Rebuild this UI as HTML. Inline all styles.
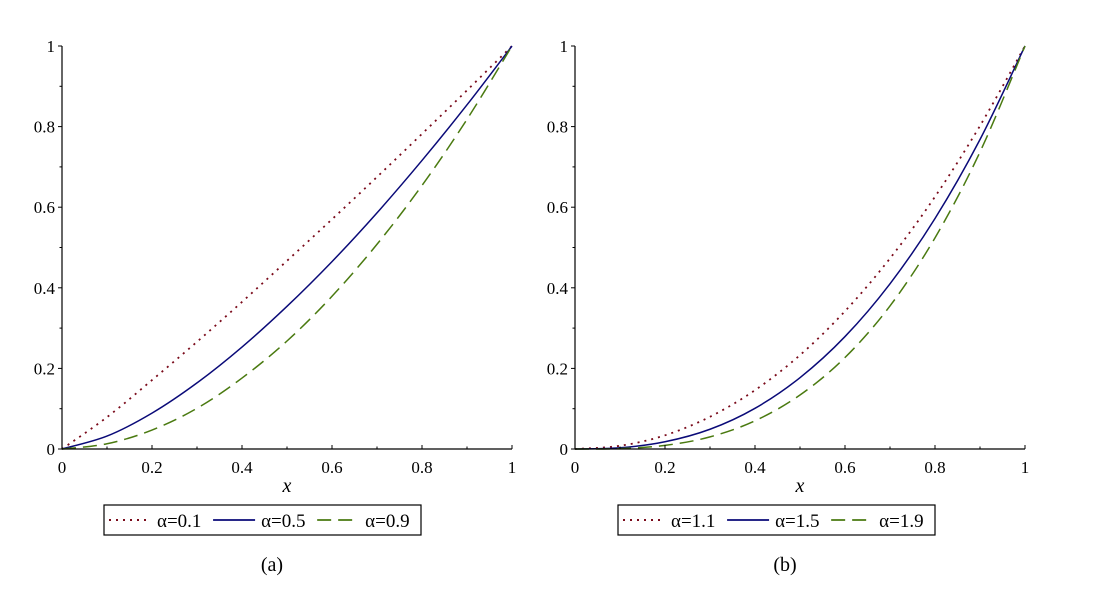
<!DOCTYPE html>
<html><head><meta charset="utf-8"><style>
html,body{margin:0;padding:0;background:#fff}
svg text{font-family:"Liberation Serif","DejaVu Serif",serif;fill:#000}
</style></head><body>
<svg id="chart" width="1112" height="602" viewBox="0 0 1112 602" xmlns="http://www.w3.org/2000/svg" font-family="Liberation Serif, DejaVu Serif, serif"></svg>
<script>
const xCats=[0,0.1,0.2,0.3,0.4,0.5,0.6,0.7,0.8,0.9,1];
const a01=[0,.079,.171,.266,.365,.467,.570,.675,.782,.890,1];
const a05=[0,.032,.089,.164,.253,.354,.465,.586,.716,.854,1];
const a09=[0,.013,.047,.101,.176,.268,.379,.508,.654,.818,1];
const a11=[0,.008,.034,.080,.146,.233,.342,.473,.626,.802,1];
const a15=[0,.003,.018,.049,.101,.177,.279,.410,.572,.768,1];
const a19=[0,.001,.009,.030,.070,.134,.227,.355,.524,.737,1];
const xTickLabels=["0","0.2","0.4","0.6","0.8","1"];
const yTickLabels=["0","0.2","0.4","0.6","0.8","1"];
const legA=["α=0.1","α=0.5","α=0.9"];
const legB=["α=1.1","α=1.5","α=1.9"];

const NS="http://www.w3.org/2000/svg";
const svg=document.getElementById('chart');
function mk(t,at,p){const e=document.createElementNS(NS,t);for(const k in at)e.setAttribute(k,at[k]);if(t==='text')e.setAttribute('font-family','Liberation Serif, DejaVu Serif, serif');(p||svg).appendChild(e);return e;}
const styles=[
 {stroke:"#7a0a1a",dash:"2,5",w:1.8},
 {stroke:"#0a0a78",dash:"",w:1.5},
 {stroke:"#4a7a10",dash:"14,7",w:1.5}];
function panel(x0,id,series,leg,lx,ly,lw,cap){
 const g=mk('g',{});
 
 
 const X=v=>x0+v*450, Y=v=>449-v*403;
 series.forEach((s,i)=>{
  const pts=xCats.map((x,j)=>[X(x),Y(s[j])]);
  let d="M"+pts[0][0]+","+pts[0][1];
  for(let j=0;j<pts.length-1;j++){
   const p0=pts[Math.max(0,j-1)],p1=pts[j],p2=pts[j+1],p3=pts[Math.min(pts.length-1,j+2)];
   d+=" C"+(p1[0]+(p2[0]-p0[0])/6)+","+(p1[1]+(p2[1]-p0[1])/6)+" "+(p2[0]-(p3[0]-p1[0])/6)+","+(p2[1]-(p3[1]-p1[1])/6)+" "+p2[0]+","+p2[1];
  }
  const st=styles[i];
  const pa=mk('path',{d:d,fill:"none",stroke:st.stroke,"stroke-width":st.w,"stroke-dasharray":st.dash},g);
  
  
 });
 const ax=mk('path',{d:`M${x0},${Y(1)} L${x0},${Y(0)} L${X(1)},${Y(0)}`,fill:"none",stroke:"#000","stroke-width":1.2},g);
 
 
 for(let k=0;k<=10;k++){
  const v=k/10,len=k%2==0?4:2.5;
  mk('line',{x1:X(v),x2:X(v),y1:Y(0),y2:Y(0)-len,stroke:"#000","stroke-width":1},g);
  mk('line',{x1:x0,x2:x0-len,y1:Y(v),y2:Y(v),stroke:"#000","stroke-width":1},g);
 }
 xTickLabels.forEach((t,k)=>{const e=mk('text',{x:X(k*0.2),y:473,"text-anchor":"middle","font-size":17},g);e.textContent=t;
  });
 yTickLabels.forEach((t,k)=>{const e=mk('text',{x:x0-7,y:Y(k*0.2)+6,"text-anchor":"end","font-size":17},g);e.textContent=t;
  });
 const xt=mk('text',{x:X(0.5),y:492,"text-anchor":"middle","font-size":20,"font-style":"italic"},g);xt.textContent="x";
 
 const lg=mk('g',{},g);
 
 
 mk('rect',{x:lx,y:ly,width:lw,height:30,fill:"#fff",stroke:"#000","stroke-width":1.2},lg);
 const step=lw/3;
 leg.forEach((t,i)=>{
  const bx=lx+5+i*step*0.985;const st=styles[i];
  mk('line',{x1:bx,x2:bx+42,y1:ly+15,y2:ly+15,stroke:st.stroke,"stroke-width":st.w+0.3,"stroke-dasharray":st.dash},lg);
  const e=mk('text',{x:bx+48,y:ly+22,"font-size":19},lg);e.textContent=t;
  
 });
 const c=mk('text',{x:X(0.5)-15,y:571,"text-anchor":"middle","font-size":20},g);c.textContent=cap;
 
}
panel(62,'a',[a01,a05,a09],legA,104,505,317,"(a)");
panel(575,'b',[a11,a15,a19],legB,618,505,317,"(b)");
</script>
</body></html>
